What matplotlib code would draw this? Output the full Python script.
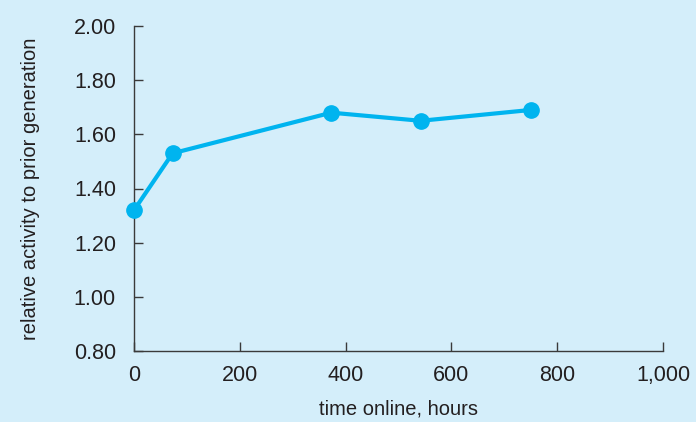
import matplotlib
matplotlib.use("Agg")
import matplotlib.pyplot as plt
from matplotlib.ticker import FuncFormatter

hours = [0, 73, 373, 542, 750]
activity = [1.32, 1.53, 1.68, 1.65, 1.69]
x_ticks = [0, 200, 400, 600, 800, 1000]
y_ticks = [0.80, 1.00, 1.20, 1.40, 1.60, 1.80, 2.00]

bg = "#d4eefa"
line_color = "#00b4ef"
axis_color = "#3a3a3a"
text_color = "#231f20"

plt.rcParams['font.family'] = ['Liberation Sans', 'DejaVu Sans']

fig = plt.figure(figsize=(6.96, 4.22), dpi=100, facecolor=bg)
ax = fig.add_axes([134/696, 1-351/422, (663-134)/696, (351-26)/422])
ax.set_facecolor(bg)

ax.plot(hours, activity, color=line_color, lw=3.0, marker='o', markersize=11,
        solid_capstyle='round', clip_on=False, zorder=3)

ax.set_xlim(0, 1000)
ax.set_ylim(0.8, 2.0)
ax.set_xticks(x_ticks)
ax.set_yticks(y_ticks)
ax.xaxis.set_major_formatter(FuncFormatter(lambda v, p: f"{int(v):,}"))
ax.yaxis.set_major_formatter(FuncFormatter(lambda v, p: f"{v:.2f}"))

for s in ['top', 'right']:
    ax.spines[s].set_visible(False)
for s in ['left', 'bottom']:
    ax.spines[s].set_color(axis_color)
    ax.spines[s].set_linewidth(1.0)

ax.tick_params(axis='both', direction='in', length=6.5, width=1.0, color=axis_color,
               labelsize=15.5, labelcolor=text_color)
ax.tick_params(axis='y', pad=13)
ax.tick_params(axis='x', pad=10)

ax.set_xlabel("time online, hours", fontsize=14.5, color=text_color, labelpad=10)
ax.set_ylabel("relative activity to prior generation", fontsize=14.5, color=text_color, labelpad=24)

fig.savefig("out.png", dpi=100, facecolor=bg)
